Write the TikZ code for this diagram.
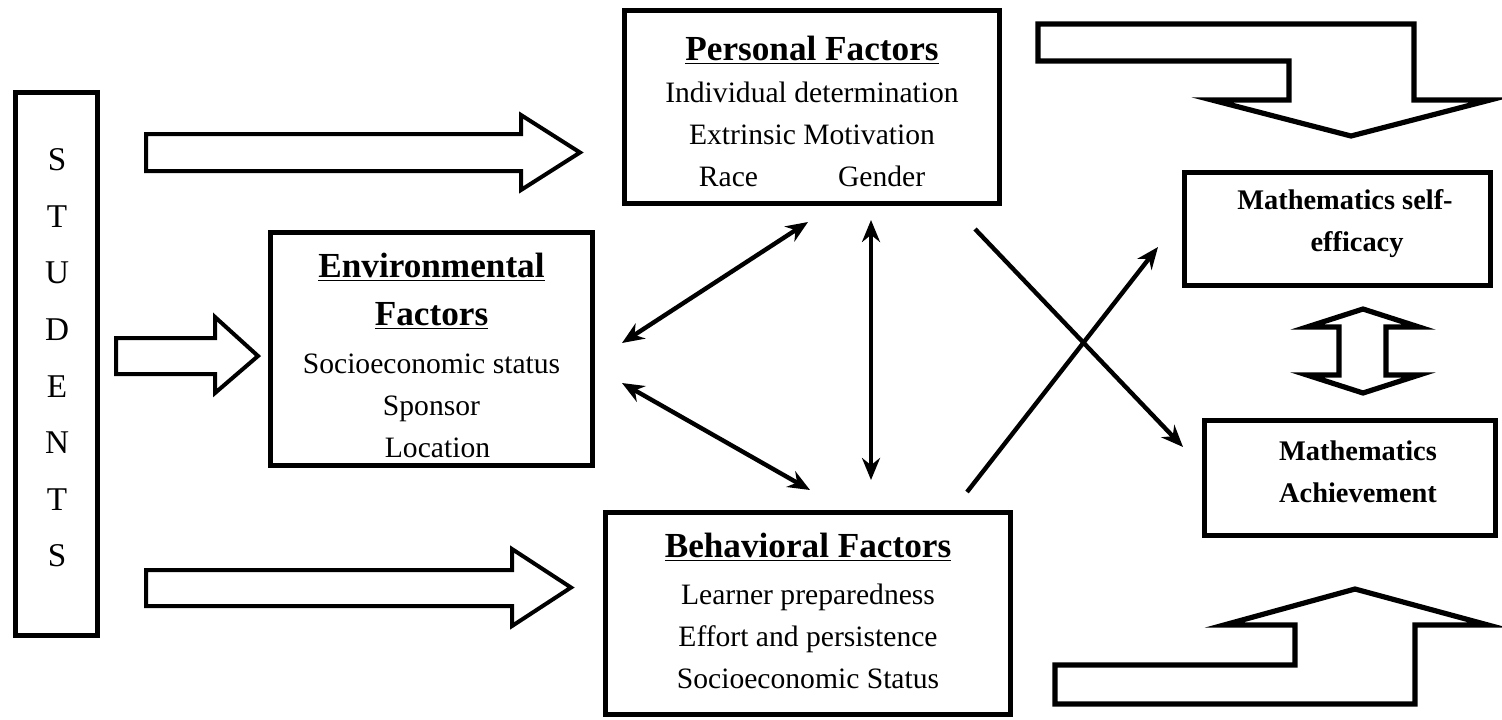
\documentclass[tikz,border=0pt]{standalone}
\usepackage{fontspec}
\setmainfont{Liberation Serif}
\usetikzlibrary{arrows.meta}
\newcommand{\HeadT}[1]{\underline{\fontsize{17.6}{21}\selectfont\bfseries #1}}

\begin{document}
\begin{tikzpicture}[x=0.5pt,y=-0.5pt]
  \tikzstyle{frame} = [draw, line width=2.5pt, inner sep=0pt]
  \tikzstyle{body} = [align=center, inner sep=0pt, font=\fontsize{14.8}{21}\selectfont]
  \tikzstyle{mathbody} = [align=center, inner sep=0pt, font=\fontsize{14.2}{21}\selectfont\bfseries]
  \tikzstyle{block} = [draw, line width=2pt, line join=miter, fill=white]
  \tikzstyle{bent} = [draw, line width=2.6pt, line join=miter, fill=white]
  \tikzstyle{line} = [draw, line width=2.2pt, -{Stealth[length=11pt,width=9pt]}]
  \tikzstyle{lineB} = [draw, line width=2.2pt, {Stealth[length=11pt,width=9pt]}-{Stealth[length=11pt,width=9pt]}]

  \useasboundingbox (0,0) rectangle (1502,719);

  % boxes
  \node(students)[frame, minimum width=41pt, minimum height=271.5pt] at (56.5,364) {};
  \node(personal)[frame, minimum width=187.5pt, minimum height=96.5pt] at (812,107) {};
  \node(environ)[frame, minimum width=161pt, minimum height=116.5pt] at (431.5,349) {};
  \node(behav)[frame, minimum width=202.5pt, minimum height=101pt] at (808,613.5) {};
  \node(selfeff)[frame, minimum width=153pt, minimum height=56.5pt] at (1337.5,229) {};
  \node(achieve)[frame, minimum width=145.5pt, minimum height=57.5pt] at (1350,478) {};

  % texts
  \node(studentsT)[align=center, inner sep=0pt, font=\fontsize{16.6}{28.3}\selectfont] at (57,358)
    {S\\T\\U\\D\\E\\N\\T\\S};
  \node(personalT)[body] at (812,111.5)
    {\HeadT{Personal Factors}\\ Individual determination\\ Extrinsic Motivation\\ Race\hspace{40pt}Gender};
  \node(environT)[body] at (431.5,355)
    {\HeadT{Environmental}\\[3pt] \HeadT{Factors}\\[3pt] Socioeconomic status\\ Sponsor\\ \hspace{6pt}Location};
  \node(behavT)[body] at (808,611)
    {\HeadT{Behavioral Factors}\\[2.5pt] Learner preparedness\\ Effort and persistence\\ Socioeconomic Status};
  \node(selfeffT)[mathbody] at (1345,223.5) {Mathematics self-\\ \hspace{12pt}efficacy};
  \node(achieveT)[mathbody] at (1358,472) {Mathematics\\ Achievement};

  % block arrows from students
  \path[block] (146,134) -- (521,134) -- (521,115) -- (580,152.5) -- (521,190) -- (521,171) -- (146,171) -- cycle;
  \path[block] (116,338) -- (215,338) -- (215,317) -- (258,356) -- (215,393) -- (215,374) -- (116,374) -- cycle;
  \path[block] (146,570) -- (512,570) -- (512,549) -- (571,587.5) -- (512,626) -- (512,606) -- (146,606) -- cycle;

  % bent arrows and double arrow on the right
  \path[bent] (1038,24) -- (1414,24) -- (1414,100) -- (1490,100) -- (1351,136) -- (1212,100)
    -- (1289,100) -- (1289,61) -- (1038,61) -- cycle;
  \path[bent] (1055,704) -- (1415,704) -- (1415,625) -- (1488,625) -- (1355,589) -- (1224,625)
    -- (1295,625) -- (1295,665) -- (1055,665) -- cycle;
  \path[bent] (1363,309) -- (1419,327) -- (1386,327) -- (1386,375) -- (1419,375) -- (1363,393)
    -- (1307,375) -- (1339,375) -- (1339,327) -- (1307,327) -- cycle;

  % connectors
  \draw[lineB] ([shift={(-4,16)}]personal.south) -- ([shift={(27,-6)}]environ.east);
  \draw[lineB] ([shift={(27,34)}]environ.east) -- ([shift={(2,-20)}]behav.north);
  \draw[lineB] ([shift={(59,14)}]personal.south) -- ([shift={(63,-30)}]behav.north);
  \draw[line] ([shift={(-27,23)}]personal.south east) -- ([shift={(-19,-31)}]achieve.west);
  \draw[line] ([shift={(-46,-18)}]behav.north east) -- ([shift={(-24,18)}]selfeff.west);
\end{tikzpicture}
\end{document}
